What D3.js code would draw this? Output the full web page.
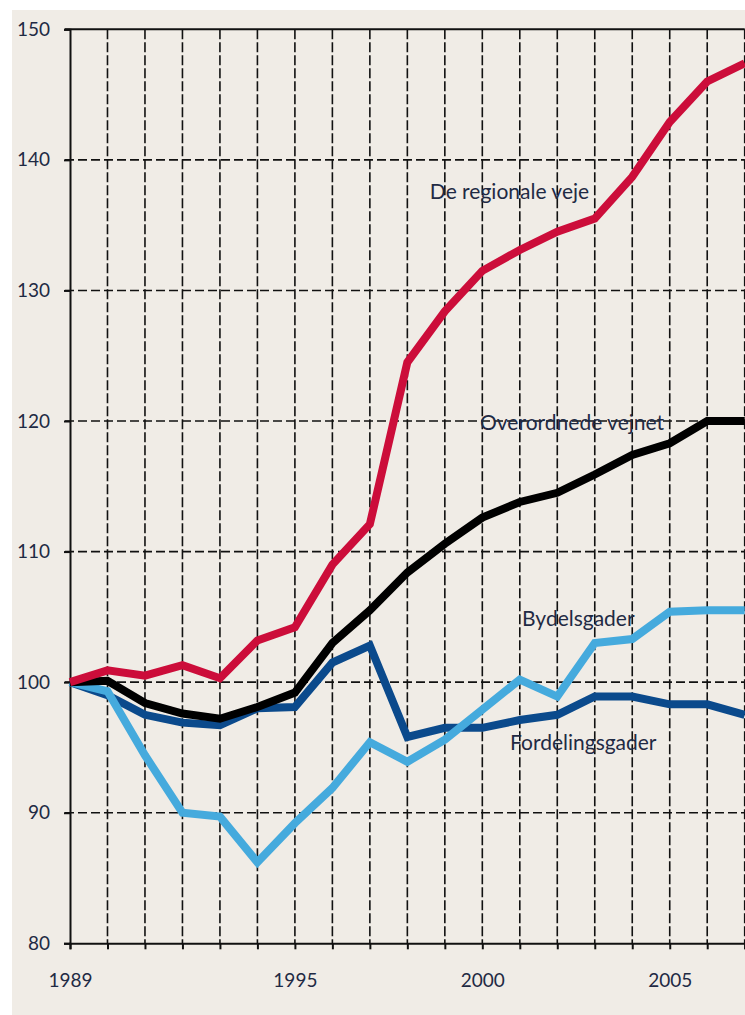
<!DOCTYPE html>
<html>
<head>
<meta charset="utf-8">
<script src="https://cdn.jsdelivr.net/npm/d3@7"></script>
<style>
  html, body { margin: 0; padding: 0; background: #ffffff; }
  svg { display: block; }
  text { font-family: Lato, "Open Sans", sans-serif; fill: #1f2a44; }
</style>
</head>
<body>
<div id="chart"></div>
<script>
const years = d3.range(1989, 2008)
const yearLabels = [1989, 1995, 2000, 2005]
const yTicks = [80, 90, 100, 110, 120, 130, 140, 150]

const regionale = [100, 100.9, 100.5, 101.3, 100.3, 103.2, 104.2, 109.0, 112.1, 124.5, 128.4, 131.5, 133.1, 134.5, 135.5, 138.7, 142.9, 146.0, 147.4]
const overordnede = [100, 100.1, 98.4, 97.6, 97.2, 98.1, 99.2, 103.0, 105.5, 108.4, 110.6, 112.6, 113.8, 114.5, 115.9, 117.4, 118.3, 120.0, 120.0]
const fordeling = [100, 99.0, 97.5, 96.9, 96.7, 98.0, 98.1, 101.5, 102.8, 95.8, 96.5, 96.5, 97.1, 97.5, 98.9, 98.9, 98.3, 98.3, 97.5]
const bydel = [100, 99.3, 94.4, 90.0, 89.7, 86.2, 89.2, 91.9, 95.4, 93.9, 95.6, 97.9, 100.2, 98.9, 103.0, 103.3, 105.4, 105.5, 105.5]

const seriesNames = ["Fordelingsgader", "Bydelsgader", "Overordnede vejnet", "De regionale veje"]
const seriesValues = [fordeling, bydel, overordnede, regionale]
const seriesColors = ["#0b4a8c", "#45aadd", "#000000", "#cc0d3a"]

const W = 745, H = 1015
const svg = d3.select("#chart").append("svg")
    .attr("width", W)
    .attr("height", H)

// beige panel
svg.append("rect")
    .attr("x", 12).attr("y", 10)
    .attr("width", W - 12).attr("height", H - 10)
    .attr("fill", "#f0ece6")

const x = d3.scaleLinear().domain([1989, 2007]).range([70, 744.7])
const y = d3.scaleLinear().domain([80, 150]).range([943.3, 29.3])

// vertical grid (dashed)
svg.append("g")
    .selectAll("line")
    .data(years.slice(1))
    .join("line")
    .attr("x1", d => x(d)).attr("x2", d => x(d))
    .attr("y1", y(150)).attr("y2", y(80))
    .attr("stroke", "#111")
    .attr("stroke-width", 1.6)
    .attr("stroke-dasharray", "10,3")

// horizontal grid (dashed)
svg.append("g")
    .selectAll("line")
    .data(yTicks.filter(d => d > 80 && d < 150))
    .join("line")
    .attr("x1", x(1989) - 5).attr("x2", x(2007))
    .attr("y1", d => y(d)).attr("y2", d => y(d))
    .attr("stroke", "#111")
    .attr("stroke-width", 1.6)
    .attr("stroke-dasharray", "9,4")

// top line solid
svg.append("line")
    .attr("x1", x(1989) - 5).attr("x2", x(2007))
    .attr("y1", y(150)).attr("y2", y(150))
    .attr("stroke", "#111").attr("stroke-width", 2)

// y axis
const yAxis = svg.append("g")
    .attr("transform", "translate(" + x(1989) + ",0)")
    .call(d3.axisLeft(y).tickValues(yTicks).tickSize(6).tickPadding(14))
yAxis.select(".domain").attr("stroke", "#111").attr("stroke-width", 2)
yAxis.selectAll(".tick line").attr("stroke", "#111").attr("stroke-width", 2)
yAxis.selectAll("text")
    .style("font-size", "19px")
    .attr("fill", "#1f2a44")

// x axis
const xAxis = svg.append("g")
    .attr("transform", "translate(0," + y(80) + ")")
    .call(d3.axisBottom(x)
        .tickValues(years)
        .tickSize(6)
        .tickPadding(24)
        .tickFormat(d => yearLabels.includes(d) ? d : ""))
xAxis.select(".domain").attr("stroke", "#111").attr("stroke-width", 2)
xAxis.selectAll(".tick line").attr("stroke", "#111").attr("stroke-width", 2)
xAxis.selectAll("text")
    .style("font-size", "19px")
    .attr("fill", "#1f2a44")

// lines
const line = d3.line()
    .x((d, i) => x(years[i]))
    .y(d => y(d))

svg.append("g")
    .selectAll("path")
    .data(seriesValues)
    .join("path")
    .attr("d", line)
    .attr("fill", "none")
    .attr("stroke", (d, i) => seriesColors[i])
    .attr("stroke-width", 8)
    .attr("stroke-linejoin", "miter")

// series labels
const labelPos = [
    {name: "De regionale veje", yr: 1998.6, v: 137.55},
    {name: "Overordnede vejnet", yr: 1999.94, v: 119.85},
    {name: "Bydelsgader", yr: 2001.06, v: 104.9},
    {name: "Fordelingsgader", yr: 2000.74, v: 95.4}
]
svg.append("g")
    .selectAll("text")
    .data(labelPos)
    .join("text")
    .attr("x", d => x(d.yr))
    .attr("y", d => y(d.v))
    .attr("dy", "0.35em")
    .style("font-size", "21px")
    .text(d => d.name)
</script>
</body>
</html>
